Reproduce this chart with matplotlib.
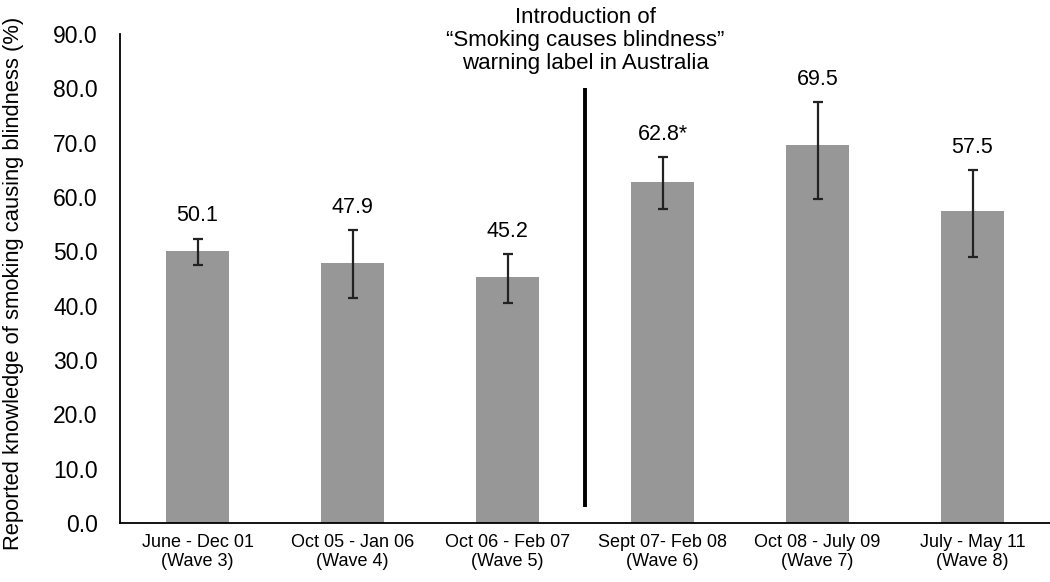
import matplotlib
matplotlib.use("Agg")
import matplotlib.pyplot as plt
import numpy as np

plt.rcParams["font.family"] = ["Liberation Sans", "DejaVu Sans"]

# ---------------- data ---------------- #
periods = ["June - Dec 01\n(Wave 3)", "Oct 05 - Jan 06\n(Wave 4)",
           "Oct 06 - Feb 07\n(Wave 5)", "Sept 07- Feb 08\n(Wave 6)",
           "Oct 08 - July 09\n(Wave 7)", "July - May 11\n(Wave 8)"]
knowledge = [50.1, 47.9, 45.2, 62.8, 69.5, 57.5]
value_labels = ["50.1", "47.9", "45.2", "62.8*", "69.5", "57.5"]
ci_low = [47.4, 41.5, 40.4, 57.7, 59.7, 49.0]
ci_high = [52.3, 53.9, 49.5, 67.3, 77.4, 64.9]
y_ticks = [0, 10, 20, 30, 40, 50, 60, 70, 80, 90]
intro_note = "Introduction of\n\u201cSmoking causes blindness\u201d\nwarning label in Australia"

# ---------------- painting ---------------- #
fig = plt.figure(figsize=(10.5, 5.82), dpi=100)
ax = fig.add_axes([0.1143, 0.1014, 0.8857, 0.8402])

x = np.arange(len(periods))
vals = np.array(knowledge)
err = [vals - np.array(ci_low), np.array(ci_high) - vals]

ax.bar(x, vals, width=0.41, color="#979797", zorder=2)
ax.errorbar(x, vals, yerr=err, fmt="none", ecolor="#222222",
            elinewidth=1.6, capsize=3.8, capthick=1.6, zorder=3)

for xi, hi, lab in zip(x, ci_high, value_labels):
    ax.annotate(lab, (xi, hi), xytext=(0, 9), textcoords="offset points",
                ha="center", va="bottom", fontsize=15.5)

# policy change marker between wave 5 and wave 6
ax.plot([2.5, 2.5], [3, 80], color="black", lw=2.8, solid_capstyle="butt", zorder=3)
ax.text(2.5, 82.6, intro_note, ha="center", va="bottom", fontsize=16,
        linespacing=1.12, clip_on=False)

ax.set_xlim(-0.5, 5.5)
ax.set_ylim(0, 90)
ax.set_yticks(y_ticks)
ax.set_yticklabels([f"{t:.1f}" for t in y_ticks], fontsize=16.5)
ax.set_xticks(x)
ax.set_xticklabels(periods, fontsize=13, linespacing=1.15)
ax.tick_params(axis="y", length=0, pad=16)
ax.tick_params(axis="x", length=0, pad=8)
ax.set_ylabel("Reported knowledge of smoking causing blindness (%)", fontsize=15.8)
ax.yaxis.set_label_coords(-0.103, 0.49)

for side in ["top", "right"]:
    ax.spines[side].set_visible(False)
for side in ["left", "bottom"]:
    ax.spines[side].set_linewidth(1.3)
    ax.spines[side].set_color("black")

fig.savefig("out.png", dpi=100)
